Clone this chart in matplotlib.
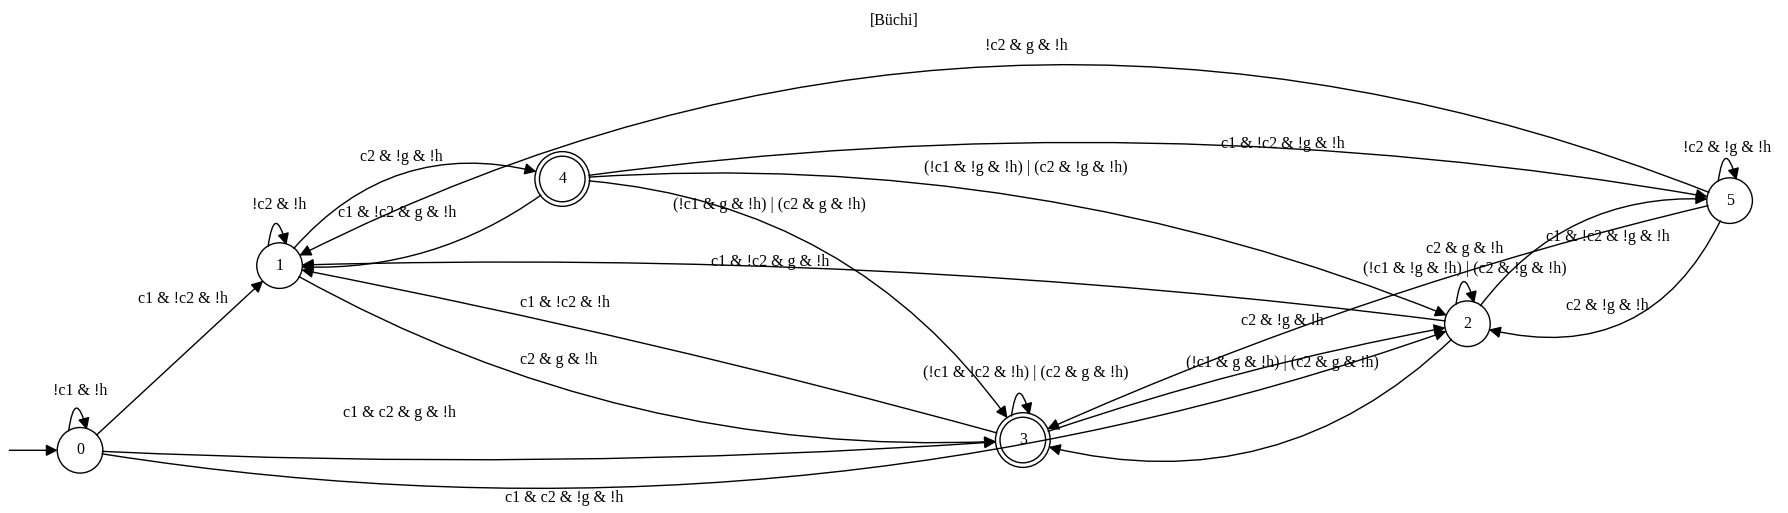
import matplotlib.pyplot as plt
from matplotlib.patches import Circle, FancyArrowPatch

# node layout (graphviz-ish coordinates, y grows downward)
node_names = ['0', '1', '2', '3', '4', '5']
node_x = [70, 245, 1287, 897, 493, 1517]
node_y = [395, 233, 284, 386, 157, 176]
accepting = ['3', '4']

# edges: source, target, label, curvature, label x, label y
edge_src = ['0', '0', '0', '1', '4', '1', '3', '2', '5', '4', '4', '4', '3', '2', '5', '2', '5']
edge_dst = ['1', '3', '2', '4', '1', '3', '1', '1', '1', '5', '2', '3', '2', '3', '3', '5', '2']
edge_lab = ['c1 & !c2 & !h', 'c1 & c2 & g & !h', 'c1 & c2 & !g & !h', 'c2 & !g & !h',
            'c1 & !c2 & g & !h', 'c2 & g & !h', 'c1 & !c2 & !h', 'c1 & !c2 & g & !h',
            '!c2 & g & !h', 'c1 & !c2 & !g & !h', '(!c1 & !g & !h) | (c2 & !g & !h)',
            '(!c1 & g & !h) | (c2 & g & !h)', 'c2 & !g & !h', '(!c1 & g & !h) | (c2 & g & !h)',
            'c2 & g & !h', 'c1 & !c2 & !g & !h', 'c2 & !g & !h']
edge_rad = [0.0, 0.03, 0.13, -0.35, -0.2, 0.15, 0.02, 0.04, 0.23, -0.08, -0.12, -0.25,
            -0.04, -0.3, 0.05, -0.3, -0.45]
edge_lx = [160, 350, 495, 352, 348, 490, 495, 675, 900, 1125, 900, 675, 1125, 1125, 1285, 1410, 1410]
edge_ly = [262, 362, 437, 138, 187, 316, 266, 230, 40, 126, 147, 180, 282, 318, 218, 208, 268]

# self loops: node, label, label x, label y
loop_node = ['0', '1', '3', '2', '5']
loop_lab = ['!c1 & !h', '!c2 & !h', '(!c1 & !c2 & !h) | (c2 & g & !h)',
            '(!c1 & !g & !h) | (c2 & !g & !h)', '!c2 & !g & !h']
loop_lx = [70, 245, 900, 1285, 1515]
loop_ly = [343, 180, 327, 236, 130]

R = 20
pos = {n: (x, y) for n, x, y in zip(node_names, node_x, node_y)}
font = dict(family='Liberation Serif', fontsize=11.5)

fig = plt.figure(figsize=(17.88, 5.13), dpi=100)
ax = fig.add_axes([0, 0, 1, 1])
ax.set_xlim(0, 1568)
ax.set_ylim(450, 0)
ax.set_aspect('equal')
ax.axis('off')

circles = {}
for n, (x, y) in pos.items():
    r = R + 4 if n in accepting else R
    c = Circle((x, y), r, fill=False, lw=1, color='black')
    ax.add_patch(c)
    circles[n] = c
    if n in accepting:
        ax.add_patch(Circle((x, y), R, fill=False, lw=1, color='black'))
    ax.text(x, y, n, ha='center', va='center', **font)

arrow_kw = dict(arrowstyle='-|>,head_length=7,head_width=3.5', color='black', lw=1,
                mutation_scale=1)

# initial arrow
ax.add_patch(FancyArrowPatch((8, pos['0'][1]), pos['0'], patchB=circles['0'],
                             shrinkA=0, shrinkB=0, **arrow_kw))

for s, d, lab, rad, lx, ly in zip(edge_src, edge_dst, edge_lab, edge_rad, edge_lx, edge_ly):
    ax.add_patch(FancyArrowPatch(pos[s], pos[d], patchA=circles[s], patchB=circles[d],
                                 connectionstyle=f'arc3,rad={rad}', shrinkA=0, shrinkB=0,
                                 **arrow_kw))
    ax.text(lx, ly, lab, ha='center', va='center', **font)

for n, lab, lx, ly in zip(loop_node, loop_lab, loop_lx, loop_ly):
    x, y = pos[n]
    r = circles[n].radius
    a = (x - 10, y - r + 3)
    b = (x + 6, y - r + 2)
    ax.add_patch(FancyArrowPatch(a, b, connectionstyle='arc3,rad=-2.4',
                                 shrinkA=0, shrinkB=0, **arrow_kw))
    ax.text(lx, ly, lab, ha='center', va='center', **font)

ax.text(784, 18, '[Büchi]', ha='center', va='center', **font)

fig.savefig('out.png', dpi=100)
